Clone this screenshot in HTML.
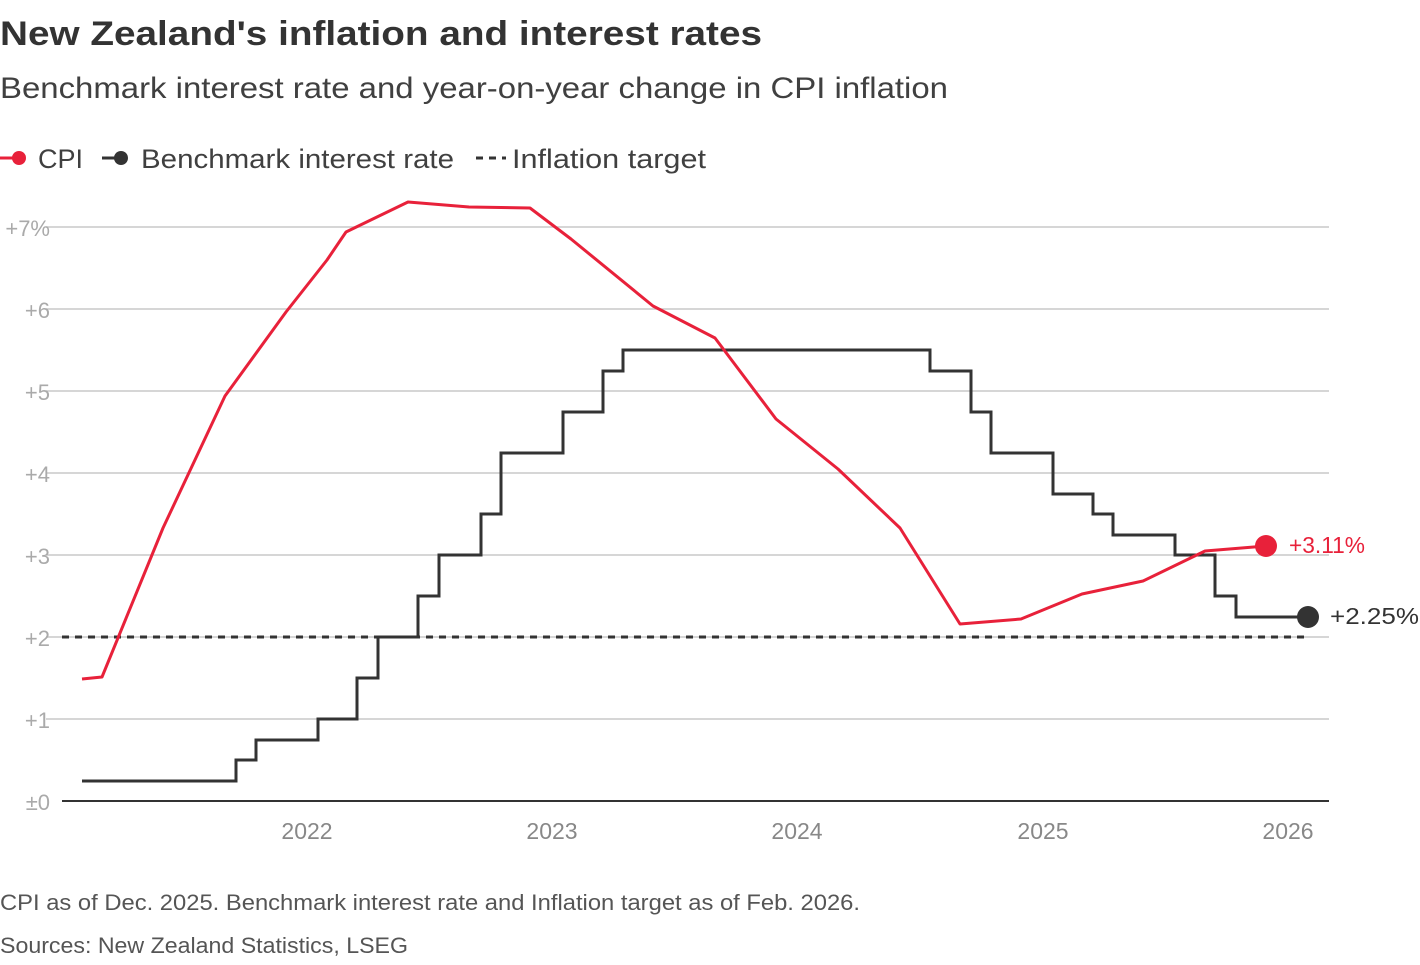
<!DOCTYPE html>
<html><head><meta charset="utf-8"><style>
body{margin:0;background:#fff;width:1420px;height:960px;overflow:hidden;font-family:"Liberation Sans",sans-serif}
</style></head><body>
<svg width="1420" height="960" xmlns="http://www.w3.org/2000/svg" font-family="Liberation Sans, sans-serif">
<text x="0" y="45" font-size="34" font-weight="bold" fill="#333" textLength="762" lengthAdjust="spacingAndGlyphs">New Zealand's inflation and interest rates</text>
<text x="0" y="98" font-size="30" fill="#404040" textLength="948" lengthAdjust="spacingAndGlyphs">Benchmark interest rate and year-on-year change in CPI inflation</text>
<g font-size="27" fill="#404040">
<line x1="0" y1="158" x2="14" y2="158" stroke="#e8213a" stroke-width="3"/><circle cx="19" cy="158" r="7" fill="#e8213a"/>
<text x="38" y="168" textLength="45" lengthAdjust="spacingAndGlyphs">CPI</text>
<line x1="102" y1="158" x2="116" y2="158" stroke="#333" stroke-width="3"/><circle cx="121" cy="158" r="7" fill="#333"/>
<text x="141" y="168" textLength="313" lengthAdjust="spacingAndGlyphs">Benchmark interest rate</text>
<line x1="476" y1="158" x2="506" y2="158" stroke="#333" stroke-width="3" stroke-dasharray="7,6"/>
<text x="512" y="168" textLength="194" lengthAdjust="spacingAndGlyphs">Inflation target</text>
</g>
<g stroke="#c8c8c8" stroke-width="1.5">
<line x1="46" y1="227" x2="1329" y2="227"/><line x1="46" y1="309" x2="1329" y2="309"/>
<line x1="46" y1="391" x2="1329" y2="391"/><line x1="46" y1="473" x2="1329" y2="473"/>
<line x1="46" y1="555" x2="1329" y2="555"/><line x1="46" y1="637" x2="1329" y2="637"/>
<line x1="46" y1="719" x2="1329" y2="719"/>
</g>
<line x1="62" y1="801" x2="1329" y2="801" stroke="#333" stroke-width="2"/>
<g font-size="22" fill="#aaa" text-anchor="end">
<text x="50" y="236">+7%</text><text x="50" y="318">+6</text><text x="50" y="400">+5</text>
<text x="50" y="482">+4</text><text x="50" y="564">+3</text><text x="50" y="646">+2</text>
<text x="50" y="728">+1</text><text x="50" y="810">±0</text>
</g>
<g font-size="23" fill="#888" text-anchor="middle">
<text x="307" y="839">2022</text><text x="552" y="839">2023</text><text x="797" y="839">2024</text>
<text x="1043" y="839">2025</text><text x="1288" y="839">2026</text>
</g>
<line x1="62" y1="637" x2="1310" y2="637" stroke="#333" stroke-width="3" stroke-dasharray="7,6"/>
<path d="M82,781 H236 V760 H256 V740 H318 V719 H357 V678 H378 V637 H418 V596 H439 V555 H481 V514 H501 V453 H563 V412 H603 V371 H623 V350 H930 V371 H971 V412 H991 V453 H1053 V494 H1093 V514 H1113 V535 H1175 V555 H1215 V596 H1236 V617 H1308" fill="none" stroke="#333" stroke-width="3"/>
<polyline points="82,679 102,677 163,528 225,396 286,312 327,260 346,232 408,202 469,207 530,208 571,239 653,306 715,338 776,419 838,469 900,528 960,624 1021,619 1082,594 1143,581 1205,551 1266,546" fill="none" stroke="#e8213a" stroke-width="3" stroke-linejoin="round"/>
<circle cx="1266" cy="546" r="11" fill="#e8213a"/>
<circle cx="1308" cy="617" r="11" fill="#333"/>
<text x="1289" y="553" font-size="23" fill="#e8213a" textLength="76" lengthAdjust="spacingAndGlyphs">+3.11%</text>
<text x="1330" y="624" font-size="23" fill="#333" textLength="89" lengthAdjust="spacingAndGlyphs">+2.25%</text>
<text x="0" y="910" font-size="22" fill="#555" textLength="860" lengthAdjust="spacingAndGlyphs">CPI as of Dec. 2025. Benchmark interest rate and Inflation target as of Feb. 2026.</text>
<text x="0" y="953" font-size="22" fill="#555" textLength="408" lengthAdjust="spacingAndGlyphs">Sources: New Zealand Statistics, LSEG</text>
</svg>
</body></html>
